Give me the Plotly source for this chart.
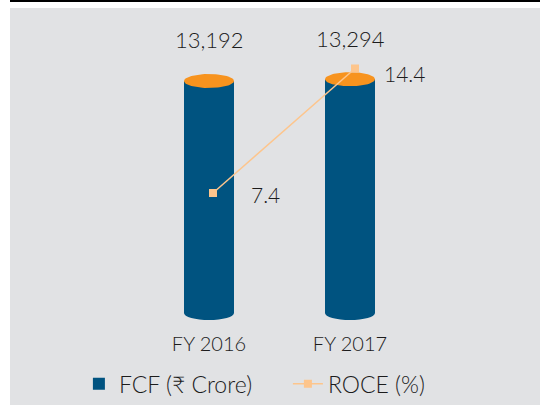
import numpy as np
import plotly.graph_objects as go

categories = ["FY 2016", "FY 2017"]
fcf = [13192, 13294]
roce = [7.4, 14.4]

BLUE = "#005380"
ORANGE = "#F7931E"
LINE = "#FDC58C"
BG = "#E1E2E4"
TXT = "#1c1c1c"
FONT = "Lato"

W, H = 540, 405
ML, MR, MT, MB = 10, 0, 8, 75
plot_h = H - MT - MB
bar_w = 0.355
px_unit = 56.86          # FCF units per pixel
ell_ry = 7 * px_unit     # ellipse half-height in data units

idx = list(range(len(categories)))
fig = go.Figure()

fig.add_trace(go.Bar(
    x=idx, y=fcf, name="FCF (₹ Crore)", marker=dict(color=BLUE, line=dict(width=0)),
    width=bar_w, hoverinfo="skip",
))

# orange cylinder tops, derived from bar values
t = np.linspace(0, 2 * np.pi, 73)
for i, v in zip(idx, fcf):
    fig.add_trace(go.Scatter(
        x=i + bar_w / 2 * np.cos(t), y=v + ell_ry * np.sin(t),
        mode="lines", fill="toself", fillcolor=ORANGE,
        line=dict(width=0, color=ORANGE), showlegend=False, hoverinfo="skip",
    ))

fig.add_trace(go.Scatter(
    x=idx, y=roce, name="ROCE (%)", xaxis="x2", yaxis="y2",
    mode="lines+markers", line=dict(color=LINE, width=1.5),
    marker=dict(symbol="square", size=8, color=LINE), hoverinfo="skip",
))

shapes = [
    dict(type="rect", xref="paper", yref="paper", x0=0, x1=1,
         y0=-MB / plot_h, y1=1, fillcolor=BG, line=dict(width=0), layer="below"),
    dict(type="rect", xref="paper", yref="paper", x0=0, x1=1,
         y0=1 + 6 / plot_h, y1=1 + 8 / plot_h, fillcolor="black", line=dict(width=0)),
]
for i in idx:
    shapes.append(dict(type="circle", xref="x", yref="y",
                       x0=i - bar_w / 2, x1=i + bar_w / 2, y0=-ell_ry, y1=ell_ry,
                       fillcolor=BLUE, line=dict(width=0), layer="below"))

annotations = []
for i, v in zip(idx, fcf):
    annotations.append(dict(x=i, y=v, xref="x", yref="y", text=f"{v:,}",
                            showarrow=False, yshift=41, yanchor="middle",
                            font=dict(size=22, color=TXT, family=FONT, weight=300)))
roce_dx = [36, 27]
roce_dy = [-1, -5]
for i, v, dx, dy in zip(idx, roce, roce_dx, roce_dy):
    annotations.append(dict(x=i, y=v, xref="x2", yref="y2", text=f"{v}",
                            showarrow=False, xanchor="left", yanchor="middle",
                            xshift=dx, yshift=dy,
                            font=dict(size=21, color=TXT, family=FONT, weight=300)))

fig.update_layout(
    width=W, height=H,
    margin=dict(l=ML, r=MR, t=MT, b=MB, autoexpand=False),
    paper_bgcolor="white", plot_bgcolor="rgba(0,0,0,0)",
    font=dict(family=FONT, color=TXT, weight=300),
    shapes=shapes, annotations=annotations,
    bargap=0,
    xaxis=dict(range=[-199 / 141, 1 + 190 / 141], tickvals=idx, ticktext=categories,
               showgrid=False, zeroline=False, showline=False, ticks="",
               automargin=False,
               tickfont=dict(size=20, color=TXT, family=FONT, weight=300)),
    yaxis=dict(range=[-17 * px_unit, 305 * px_unit], visible=False),
    xaxis2=dict(overlaying="x", range=[-203 / 142, 1 + 185 / 142], visible=False),
    yaxis2=dict(overlaying="y", range=[-0.30, 17.80], visible=False),
    legend=dict(orientation="h", x=0.13, xanchor="left", y=-0.10, yanchor="top",
                font=dict(size=23, color=TXT, family=FONT, weight=300),
                entrywidth=164, entrywidthmode="pixels",
                bgcolor="rgba(0,0,0,0)", traceorder="normal"),
    showlegend=True,
)

fig.write_html("out.html", config={"displayModeBar": False},
               post_script="document.body.style.margin='0';")
